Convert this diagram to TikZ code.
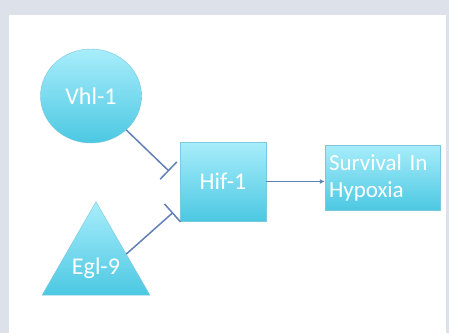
\documentclass[tikz,border=0pt]{standalone}
\usepackage{fontspec}
\setmainfont{Carlito}
\usetikzlibrary{arrows.meta,positioning,calc,shapes.geometric}
\definecolor{pageGrey}{RGB}{221,225,234}
\definecolor{geneTop}{RGB}{168,237,251}
\definecolor{geneBot}{RGB}{76,200,226}
\definecolor{geneEdge}{RGB}{120,200,222}
\definecolor{linkBlue}{RGB}{98,128,184}
\tikzset{hxpanel/.style={
  x=1pt, y=-1pt,
  gene/.style={top color=geneTop, bottom color=geneBot, draw=geneEdge, line width=0.4pt,
    text=white, font=\fontsize{24}{27}\selectfont, inner sep=3pt},
  genebox/.style={gene, rectangle},
  inhib/.style={-{Bar[width=24pt,line width=1.5pt]}, draw=linkBlue, line width=1.5pt},
  promote/.style={-{Latex[length=5pt,width=5pt]}, draw=linkBlue, line width=1.5pt},
}}

\begin{document}
\begin{tikzpicture}[hxpanel]
% page and white panel
\fill[pageGrey] (0,0) rectangle (449,333);
\fill[white] (9,15) rectangle (446,333);
\useasboundingbox (0,0) rectangle (449,333);

% regulators
\node[gene, ellipse, minimum width=101pt, minimum height=94pt] (vhl) at (91,96) {Vhl-1};
\node[gene, regular polygon, regular polygon sides=3, minimum size=124.5pt, inner sep=0pt]
  (egl) at (96,264) {\smash{\makebox[0pt]{\raisebox{-10pt}{Egl-9}}}};

% target and outcome
\node[genebox, minimum width=86pt, minimum height=79pt] (hif) at (223,181.5) {Hif-1};
\node[genebox, minimum width=115pt, minimum height=65pt, align=left, text width=107pt,
  font=\fontsize{23}{27}\selectfont] (surv) at (382.5,177.5) {Survival In\\Hypoxia};

% links
\draw[inhib, shorten >=15pt] (vhl) -- (hif.west);
\draw[inhib, shorten >=9pt] ($(egl.corner 1)!0.56!(egl.corner 3)$) -- (hif.210);
\draw[promote] (hif.east) -- (hif.east -| surv.west);
\end{tikzpicture}
\end{document}
